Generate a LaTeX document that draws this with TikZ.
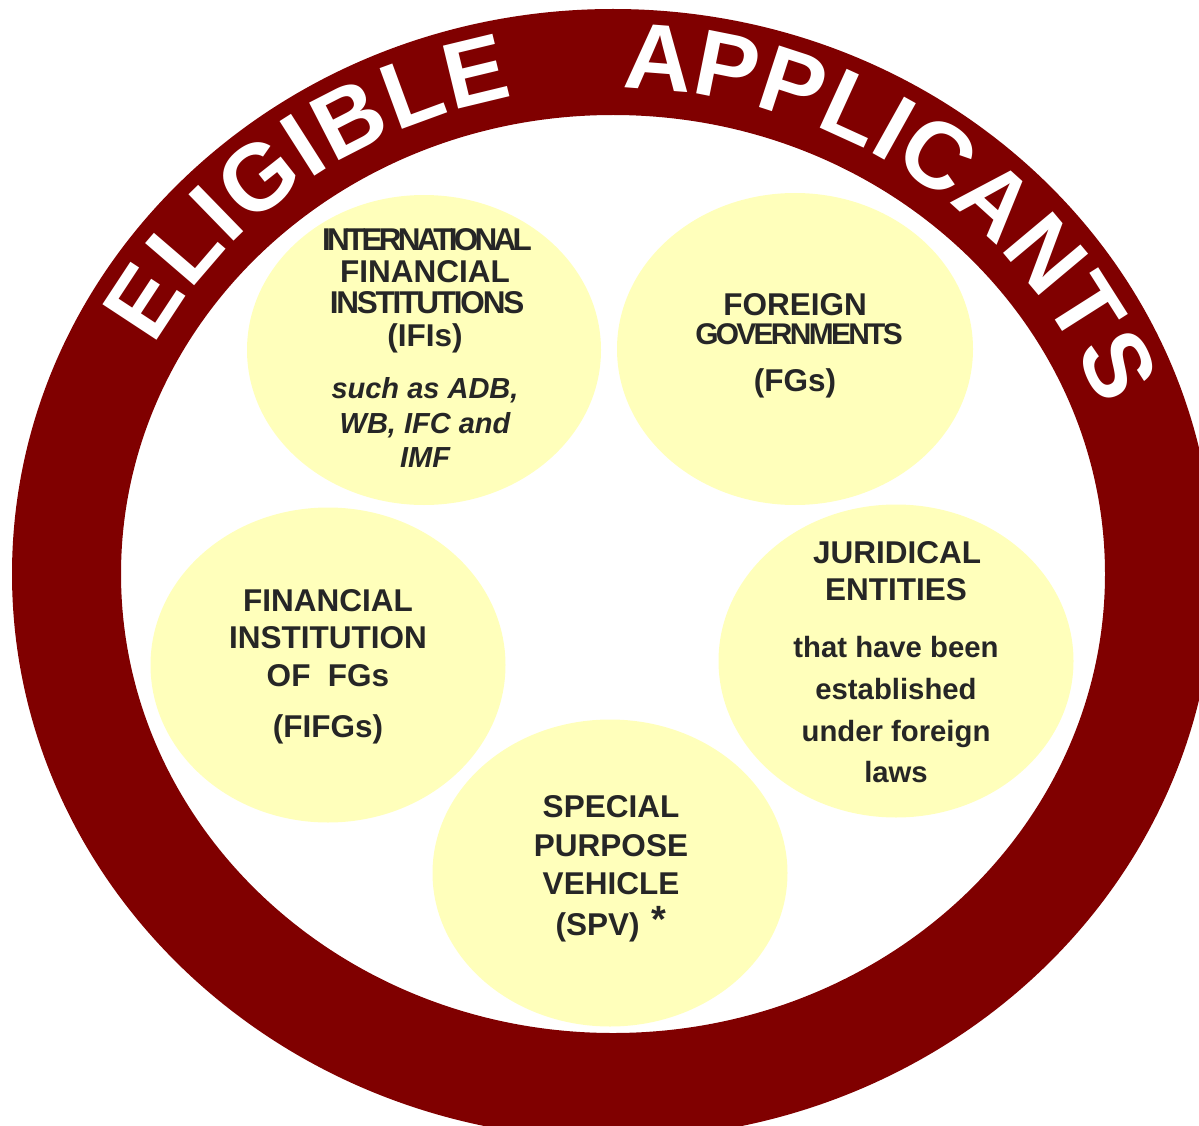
\documentclass[tikz,border=0pt]{standalone}
\usepackage{fontspec}
\setmainfont{Liberation Sans}
\usetikzlibrary{shapes.geometric,decorations.text}
\definecolor{ringred}{HTML}{800000}
\definecolor{blobfill}{HTML}{FFFFBB}
\definecolor{ink}{HTML}{262626}
\newcommand\ringfont{\bfseries\fontsize{94}{94}\selectfont\color{white}}
\newcommand\tight[2]{{\addfontfeature{LetterSpace=#1}#2}}
\begin{document}
\begin{tikzpicture}[x=1pt,y=1pt,
  blob/.style={ellipse, fill=blobfill, inner sep=0pt},
  ln/.style={anchor=base, inner sep=0pt, text=ink, font=\bfseries\fontsize{31.5}{31.5}\selectfont},
  sm/.style={anchor=base, inner sep=0pt, text=ink, font=\bfseries\fontsize{29.3}{29.3}\selectfont},
  itl/.style={anchor=base, inner sep=0pt, text=ink, font=\bfseries\itshape\fontsize{29}{29}\selectfont},
  ringtext/.style={decorate, decoration={text along path, text align=fit to path, text={#1}}}]
\useasboundingbox (0,0) rectangle (1199,-1126);
\clip (0,0) rectangle (1199,-1126);
% ring
\fill[ringred, even odd rule] (613,-574) ellipse [x radius=601, y radius=565]
                               (613,-574) ellipse [x radius=492, y radius=459];
% ring text
\path[ringtext={|\ringfont|ELIGIBLE}] (613,-574) ++(152:519 and 486)
  arc[start angle=152, end angle=101, x radius=519, y radius=486];
\path[ringtext={|\ringfont|APPLICANTS}] (613,-574) ++(89:519 and 486)
  arc[start angle=89, end angle=20, x radius=519, y radius=486];
% blobs
\node[blob, minimum width=354pt, minimum height=310pt] (ifi) at (424,-350) {};
\node[blob, minimum width=356pt, minimum height=312pt] (fg) at (795,-349) {};
\node[blob, minimum width=355pt, minimum height=315pt] (fifg) at (328,-665) {};
\node[blob, minimum width=355pt, minimum height=313pt] (jur) at (896,-661) {};
\node[blob, minimum width=355pt, minimum height=307pt] (spv) at (610,-873) {};
% IFIs
\node[ln] (ifi1) at (427,-250) {\tight{-12}{INTERNATIONAL}};
\node[ln] (ifi2) at (425,-282) {FINANCIAL};
\node[ln] (ifi3) at (427,-313) {\tight{-7}{INSTITUTIONS}};
\node[ln] (ifi4) at (425,-346) {(IFIs)};
\node[itl] (ifi5) at (425,-398) {such as ADB,};
\node[itl] (ifi6) at (425,-433) {WB, IFC and};
\node[itl] (ifi7) at (425,-467) {IMF};
% FGs
\node[ln] (fg1) at (795,-315) {FOREIGN};
\node[ln] (fg2) at (799,-344) {\scalebox{0.95}{\tight{-9}{GOVERNMENTS}}};
\node[ln] (fg3) at (795,-391) {(FGs)};
% FIFGs
\node[ln] (fif1) at (328,-611) {FINANCIAL};
\node[ln] (fif2) at (328,-648) {INSTITUTION};
\node[ln] (fif3) at (328,-686) {OF\ \ FGs};
\node[ln] (fif4) at (328,-737) {(FIFGs)};
% Juridical
\node[ln] (jur1) at (897,-563) {JURIDICAL};
\node[ln] (jur2) at (896,-600) {ENTITIES};
\node[sm] (jur3) at (896,-657) {that have been};
\node[sm] (jur4) at (896,-699) {established};
\node[sm] (jur5) at (896,-741) {under foreign};
\node[sm] (jur6) at (896,-782) {laws};
% SPV
\node[ln] (spv1) at (611,-817) {SPECIAL};
\node[ln] (spv2) at (611,-856) {PURPOSE};
\node[ln] (spv3) at (611,-894) {VEHICLE};
\node[ln] (spv4) at (611,-935) {(SPV)\hspace{12pt}\raisebox{3pt}{\fontsize{38}{38}\selectfont *}};
\end{tikzpicture}
\end{document}
